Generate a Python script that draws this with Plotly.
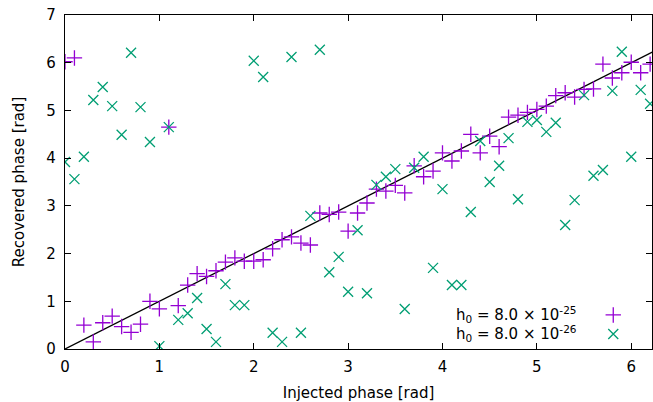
import math
import plotly.graph_objects as go

# Injected phase grid (rad), steps of 0.1
injected = [round(0.1 * k, 1) for k in range(63)]

# Recovered phase for h0 = 8.0e-25
recovered_25 = [
    6.02, 6.10, 0.50, 0.15, 0.55, 0.69, 0.47, 0.35, 0.52, 1.00,
    0.84, 4.65, 0.91, 1.34, 1.58, 1.52, 1.64, 1.82, 1.91, 1.84,
    1.84, 1.87, 2.10, 2.29, 2.35, 2.22, 2.18, 2.85, 2.82, 2.87,
    2.47, 2.85, 3.06, 3.35, 3.31, 3.43, 3.27, 3.84, 3.61, 3.73,
    4.11, 3.94, 4.15, 4.50, 4.11, 4.46, 4.24, 4.86, 4.90, 4.96,
    5.02, 5.09, 5.31, 5.37, 5.28, 5.44, 5.45, 5.97, 5.68, 5.79,
    6.01, 5.79, 5.97,
]

# Recovered phase for h0 = 8.0e-26
recovered_26 = [
    3.92, 3.56, 4.03, 5.22, 5.49, 5.09, 4.49, 6.21, 5.07, 4.34,
    0.06, 4.65, 0.61, 0.75, 1.07, 0.42, 0.15, 1.36, 0.92, 0.92,
    6.04, 5.70, 0.34, 0.15, 6.12, 0.34, 2.79, 6.27, 1.61, 1.93,
    1.20, 2.49, 1.17, 3.44, 3.61, 3.77, 0.84, 3.80, 4.03, 1.70,
    3.35, 1.34, 1.34, 2.87, 4.36, 3.50, 3.84, 4.42, 3.14, 4.76,
    4.80, 4.55, 4.74, 2.60, 3.12, 5.32, 3.63, 3.75, 5.41, 6.23,
    4.03, 5.43, 5.14,
]

# y = x reference line over one full cycle
line_x = [0.0, 2 * math.pi]
line_y = list(line_x)

series_labels = [
    "h<sub>0</sub> = 8.0 × 10<sup>-25</sup>",
    "h<sub>0</sub> = 8.0 × 10<sup>-26</sup>",
]
purple = "#9400d3"
green = "#009e73"
font_family = "DejaVu Sans, sans-serif"
font_size = 15

fig = go.Figure()

fig.add_trace(go.Scatter(
    x=line_x, y=line_y, mode="lines",
    line=dict(color="black", width=1.3),
    hoverinfo="skip", showlegend=False,
))
fig.add_trace(go.Scatter(
    x=injected, y=recovered_25, mode="markers", name=series_labels[0],
    marker=dict(symbol="cross-thin", size=11, line=dict(color=purple, width=1.3)),
    showlegend=False,
))
fig.add_trace(go.Scatter(
    x=injected, y=recovered_26, mode="markers", name=series_labels[1],
    marker=dict(symbol="x-thin", size=10, line=dict(color=green, width=1.3)),
    showlegend=False,
))

# Key: text on the left, sample symbol on the right, on an overlay axis pair
key_x = [0.934, 0.934]
key_y = [0.102, 0.045]
fig.add_trace(go.Scatter(
    x=key_x[:1], y=key_y[:1], xaxis="x2", yaxis="y2", mode="markers",
    marker=dict(symbol="cross-thin", size=11, line=dict(color=purple, width=1.3)),
    hoverinfo="skip", showlegend=False,
))
fig.add_trace(go.Scatter(
    x=key_x[1:], y=key_y[1:], xaxis="x2", yaxis="y2", mode="markers",
    marker=dict(symbol="x-thin", size=10, line=dict(color=green, width=1.3)),
    hoverinfo="skip", showlegend=False,
))
for label, ky in zip(series_labels, key_y):
    fig.add_annotation(
        xref="x2", yref="y2", x=0.876, y=ky, text=label, showarrow=False,
        xanchor="right", yanchor="middle",
        font=dict(family=font_family, size=font_size, color="black"),
    )

axis_common = dict(
    showgrid=False, zeroline=False, showline=True, linecolor="black",
    linewidth=1.3, mirror="allticks", ticks="inside", ticklen=6,
    tickwidth=1, tickcolor="black",
    tickfont=dict(family=font_family, size=font_size, color="black"),
)

fig.update_layout(
    width=653, height=402,
    margin=dict(l=65, r=1, t=15, b=53),
    paper_bgcolor="white", plot_bgcolor="white",
    font=dict(family=font_family, size=font_size, color="black"),
    xaxis=dict(
        range=[0, 6.22], tickvals=[0, 1, 2, 3, 4, 5, 6],
        ticklabelstandoff=4,
        title=dict(text="Injected phase [rad]", standoff=14,
                   font=dict(family=font_family, size=font_size)),
        **axis_common,
    ),
    yaxis=dict(
        range=[0, 7], tickvals=[0, 1, 2, 3, 4, 5, 6, 7],
        ticklabelstandoff=5,
        title=dict(text="Recovered phase [rad]", standoff=18,
                   font=dict(family=font_family, size=font_size)),
        **axis_common,
    ),
    xaxis2=dict(overlaying="x", range=[0, 1], visible=False),
    yaxis2=dict(overlaying="y", range=[0, 1], visible=False),
)

fig.write_html("out.html")
